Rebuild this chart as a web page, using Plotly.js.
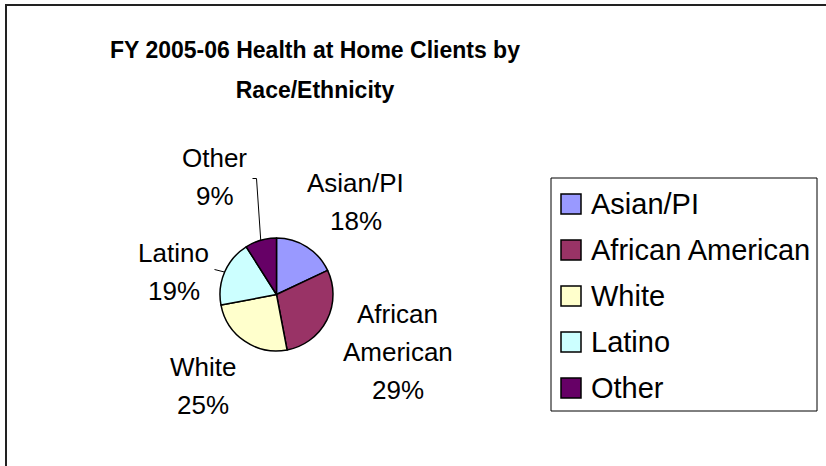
<!DOCTYPE html>
<html>
<head>
<meta charset="utf-8">
<script src="https://cdn.plot.ly/plotly-3.0.1.min.js"></script>
<style>html,body{margin:0;padding:0;background:#fff}#chart{width:826px;height:466px}</style>
</head>
<body>
<div id="chart"></div>
<script>
// ---- data ----
const categories = ['Asian/PI', 'African American', 'White', 'Latino', 'Other'];
const values = [18, 29, 25, 19, 9];
const sliceColors = ['#9999FF', '#993366', '#FFFFCC', '#CCFFFF', '#660066'];
const titleLines = ['FY 2005-06 Health at Home Clients by', 'Race/Ethnicity'];

// ---- layout helpers (pixels -> paper) ----
const W = 826, H = 466;
const px = x => x / W;
const py = y => 1 - y / H;

const C = {x: 276.5, y: 294.5}, R = 56.5;           // pie centre & radius (px)
// label block centres relative to pie centre (px), one per slice
const labelOffsets = [[79, -92.5], [121, 57.5], [-74, 91], [-103, -23], [-62, -117.5]];
const labelLineGap = 38;
// leader line end points relative to pie centre (null = none)
const leaderEnds = [null, null, null, [-62, -25], [-20, -116]];

const total = values.reduce((a, b) => a + b, 0);
const font = 'Liberation Sans, Arial, sans-serif';

const annotations = [];
const shapes = [];

// outer chart border
shapes.push({type: 'rect', xref: 'paper', yref: 'paper',
  x0: px(6), x1: px(840), y0: py(480), y1: py(5),
  line: {color: '#222', width: 2}, fillcolor: 'rgba(0,0,0,0)'});

// slice labels + leader lines
let cum = 0;
categories.forEach((name, i) => {
  const pct = Math.round(values[i] / total * 100) + '%';
  const mid = (cum + values[i] / 2) / total * 2 * Math.PI;
  cum += values[i];
  const [dx, dy] = labelOffsets[i];
  const lines = name.split(' ').concat([pct]);
  lines.forEach((ln, k) => {
    annotations.push({
      xref: 'paper', yref: 'paper', x: px(C.x + dx),
      y: py(C.y + dy + (k - (lines.length - 1) / 2) * labelLineGap),
      xanchor: 'center', yanchor: 'middle', showarrow: false,
      text: ln, font: {family: font, size: 26, color: '#000'}
    });
  });
  if (leaderEnds[i]) {
    const sx = C.x + R * Math.sin(mid), sy = C.y - R * Math.cos(mid);
    const ex = C.x + leaderEnds[i][0], ey = C.y + leaderEnds[i][1];
    let path = `M${px(sx)},${py(sy)} L${px(ex)},${py(ey)}`;
    if (i === 4) path += ` L${px(ex - 4)},${py(ey)}`;
    shapes.push({type: 'path', xref: 'paper', yref: 'paper', path: path,
      line: {color: '#000', width: 1}});
  }
});

// custom legend
const lg = {x0: 551, y0: 178, x1: 817, y1: 411, row0: 204, step: 46, sw: 20, sx: 561};
shapes.push({type: 'rect', xref: 'paper', yref: 'paper',
  x0: px(lg.x0), x1: px(lg.x1), y0: py(lg.y1), y1: py(lg.y0),
  line: {color: '#000', width: 1}, fillcolor: '#fff'});
categories.forEach((name, i) => {
  const cy = lg.row0 + i * lg.step;
  shapes.push({type: 'rect', xref: 'paper', yref: 'paper',
    x0: px(lg.sx), x1: px(lg.sx + lg.sw), y0: py(cy + lg.sw / 2), y1: py(cy - lg.sw / 2),
    line: {color: '#000', width: 1.5}, fillcolor: sliceColors[i]});
  annotations.push({xref: 'paper', yref: 'paper', x: px(lg.sx + lg.sw + 8), y: py(cy),
    xanchor: 'left', yanchor: 'middle', showarrow: false, text: name,
    font: {family: font, size: 29, color: '#000'}});
});

const trace = {
  type: 'pie', values: values, labels: categories, sort: false,
  direction: 'clockwise', rotation: 0,
  marker: {colors: sliceColors, line: {color: '#000', width: 1.5}},
  textinfo: 'none', hoverinfo: 'label+percent', showlegend: false,
  domain: {x: [px(C.x - R), px(C.x + R)], y: [py(C.y + R), py(C.y - R)]}
};

// title: line spacing driven by the outer size, glyphs drawn smaller
const titleText = titleLines.map(t => '<span style="font-size:23px">' + t + '</span>').join('<br>');

const layout = {
  width: W, height: H, autosize: false,
  margin: {l: 0, r: 0, t: 0, b: 0},
  paper_bgcolor: '#fff', plot_bgcolor: '#fff',
  showlegend: false,
  title: {text: titleText, x: px(315), xanchor: 'center', y: py(57.5), yanchor: 'middle',
    xref: 'paper', yref: 'container',
    font: {family: font, size: 31.5, weight: 'bold', color: '#000'}},
  shapes: shapes, annotations: annotations
};

Plotly.newPlot('chart', [trace], layout, {displayModeBar: false, staticPlot: true});
</script>
</body>
</html>
